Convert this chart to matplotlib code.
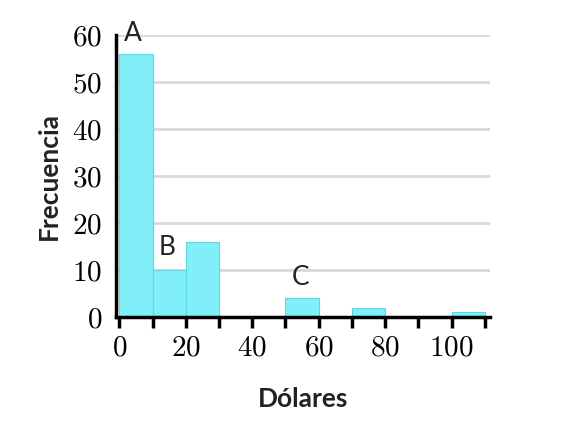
import numpy as np
from matplotlib import pyplot as plt

plt.rcParams['mathtext.fontset'] = 'cm'

bin_edges = [0, 10, 20, 30, 40, 50, 60, 70, 80, 90, 100, 110]
counts = [56, 10, 16, 0, 0, 4, 0, 2, 0, 0, 1]
marks = ['A', 'B', 'C']
mark_x = [4, 14.5, 54.5]
mark_y = [60.4, 14.7, 8.5]

fig = plt.figure(figsize=(5.77, 4.37), dpi=100)
ax = fig.add_axes([0.201, 0.2746, 0.648, 0.6454])

lefts = np.array(bin_edges[:-1])
widths = np.diff(bin_edges)
ax.bar(lefts, counts, width=widths, align='edge', color='#80eff8',
       edgecolor='#5fd6e2', linewidth=0.8, zorder=2)

for m, x, y in zip(marks, mark_x, mark_y):
    ax.text(x, y, m, ha='center', va='center', fontsize=19, family='Lato',
            color='#222222', zorder=3, clip_on=False)

ax.set_xlim(-1, 111.5)
ax.set_ylim(0, 60)
ax.set_xticks(range(0, 111, 10))
ax.set_xticklabels([r'$%d$' % v if v % 20 == 0 else '' for v in range(0, 111, 10)])
ax.set_yticks(range(0, 61, 10))
ax.set_yticklabels([r'$%d$' % v for v in range(0, 61, 10)])
ax.tick_params(axis='x', direction='out', length=8, width=2.5, labelsize=21, pad=4)
ax.tick_params(axis='y', length=0, labelsize=21, pad=10)

ax.yaxis.grid(True, color='#d9d9d9', linewidth=2, zorder=0)
ax.set_axisbelow(True)
for s in ['top', 'right']:
    ax.spines[s].set_visible(False)
for s in ['left', 'bottom']:
    ax.spines[s].set_linewidth(2.5)

ax.set_xlabel('Dólares', fontsize=19, fontweight='bold', family='Lato',
              color='#222222', labelpad=18)
ax.set_ylabel('Frecuencia', fontsize=19, fontweight='bold', family='Lato',
              color='#222222', labelpad=8)

fig.savefig('out.png', dpi=100)
